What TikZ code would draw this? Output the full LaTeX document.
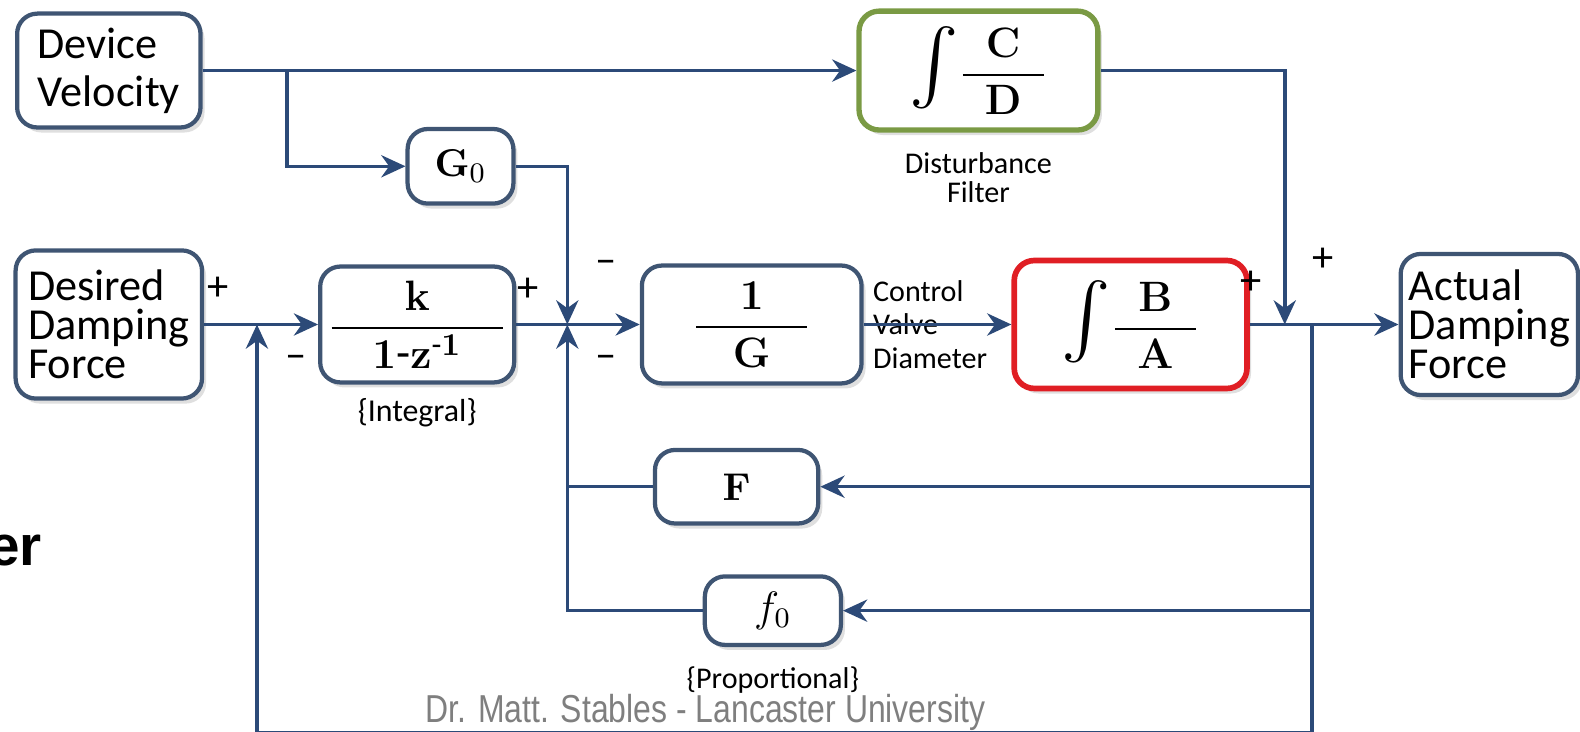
\documentclass[tikz,border=0pt]{standalone}
\usepackage{amsmath,amssymb}
\usepackage[no-math]{fontspec}
\setmainfont{Carlito}
\newfontfamily\creditfont{Liberation Sans}[FakeStretch=0.82]
\newfontfamily\headfont{Liberation Sans}
\usetikzlibrary{positioning,arrows.meta,shadows}

\definecolor{boxblue}{HTML}{3F5573}
\definecolor{wireblue}{HTML}{2C4A78}
\definecolor{filtgreen}{HTML}{7A9A44}
\definecolor{modred}{HTML}{E01E24}
\definecolor{footgray}{HTML}{7F7F7F}

\newcommand{\blockfrac}[3]{\dfrac{\makebox[#1]{$\mathbf{#2}$}}{\mathbf{#3}}}
\newcommand{\bigint}{{\fontsize{21}{21}\selectfont$\int$}}

\begin{document}
\begin{tikzpicture}[node distance=2cm,on grid,>={Stealth[length=2.4mm,width=2.2mm]}]

      \tikzset{blockbox/.style={draw=boxblue,line width=1.2pt,rounded corners=2mm,fill=white,
          drop shadow={opacity=0.25,shadow xshift=0.4mm,shadow yshift=-0.5mm},inner sep=2pt},
        wordbox/.style={blockbox,align=left,font=\fontsize{12.5}{11}\selectfont},
        mathbox/.style={blockbox,font=\fontsize{13}{15}\selectfont},
        wire/.style={draw=wireblue,line width=1pt},
        sign/.style={font=\fontsize{12}{12}\selectfont,inner sep=0pt},
        smalltext/.style={font=\fontsize{8.5}{9.5}\selectfont,align=center}}

      \useasboundingbox (0,0) rectangle (15.68,-7.26);

      % blocks
      \node[wordbox,minimum width=1.85cm,minimum height=1.47cm] (ddf) at (1.08,-3.22) {Desired\\Damping\\Force};
      \node[wordbox,minimum width=1.82cm,minimum height=1.13cm,font=\fontsize{12.5}{13.5}\selectfont] (dv) [above = 2.52cm of ddf] {Device\\Velocity};
      \node[mathbox,minimum width=1.92cm,minimum height=1.15cm] (kint) [right = 3.06cm of ddf] {$\blockfrac{1.7cm}{k}{1\text{-}z^{\text{-}1}}$};
      \node[mathbox,minimum width=2.18cm,minimum height=1.17cm] (invg) [right = 3.32cm of kint] {$\blockfrac{1.1cm}{1}{G}$};
      \node[mathbox,draw=modred,line width=1.6pt,minimum width=2.31cm,minimum height=1.27cm] (ba) [right = 3.76cm of invg] {\bigint$\blockfrac{0.8cm}{B}{A}$};
      \node[wordbox,minimum width=1.76cm,minimum height=1.40cm] (adf) [right = 3.56cm of ba] {Actual\\Damping\\Force};
      \node[mathbox,draw=filtgreen,line width=1.5pt,minimum width=2.37cm,minimum height=1.18cm] (cd) [above left = 2.52cm and 1.51cm of ba] {\bigint$\blockfrac{0.8cm}{C}{D}$};
      \node[mathbox,minimum width=1.05cm,minimum height=0.74cm,font=\fontsize{11}{13}\selectfont] (g0) [above right = 1.57cm and 0.43cm of kint] {$\mathbf{G}_0$};
      \node[mathbox,minimum width=1.62cm,minimum height=0.73cm,font=\fontsize{11}{13}\selectfont] (fbox) [below left = 1.61cm and 0.15cm of invg] {$\mathbf{F}$};
      \node[mathbox,minimum width=1.35cm,minimum height=0.68cm,font=\fontsize{12}{13}\selectfont] (fz) [below right = 2.84cm and 0.21cm of invg] {$f_0$};

      % junctions
      \coordinate[right = 1.77cm of dv] (br);
      \coordinate[right = 1.47cm of ddf] (s1);
      \coordinate[right = 1.49cm of kint] (s2);
      \coordinate[right = 1.53cm of ba] (s3);
      \coordinate[right = 1.80cm of ba] (tap);
      \coordinate[below = 4.05cm of tap] (bot);
      \coordinate (fj) at (s2 |- fbox);

      % labels
      \node[smalltext,font=\fontsize{8.5}{8.2}\selectfont] (dfilt) [below = 1.06cm of cd] {Disturbance\\Filter};
      \node[smalltext,font=\fontsize{9}{10}\selectfont] (integ) [below = 0.88cm of kint] {\{Integral\}};
      \node[smalltext,align=left,font=\fontsize{8.5}{9.4}\selectfont] (cvd) [right = 1.77cm of invg] {Control\\Valve\\Diameter};
      \node[smalltext,font=\fontsize{8.5}{9}\selectfont] (prop) [below = 0.69cm of fz] {\{Proportional\}};
      \node[font=\creditfont\fontsize{11}{12}\selectfont,text=footgray] (credit) at (7.0,-7.07) {Dr. Matt. Stables - Lancaster University};
      \node[anchor=east,font=\headfont\bfseries\fontsize{16}{18}\selectfont,inner sep=0pt] (er) at (0.42,-5.46) {er};

      % signs
      \node[sign] (ps1) [above left = 0.23cm and 0.27cm of s1] {+};
      \node[sign] (ms1) [below right = 0.30cm and 0.28cm of s1] {--};
      \node[sign] (ps2) [above left = 0.22cm and 0.28cm of s2] {+};
      \node[sign] (ms2a) [above right = 0.50cm and 0.27cm of s2] {--};
      \node[sign] (ms2b) [below right = 0.30cm and 0.27cm of s2] {--};
      \node[sign] (ps3) [above left = 0.29cm and 0.22cm of s3] {+};
      \node[sign] (ps4) [above right = 0.52cm and 0.27cm of s3] {+};

      % connectors
      \draw[wire,->] (dv) -- (cd);
      \draw[wire,->] (br) |- (g0);
      \draw[wire,->] (g0) -| (s2);
      \draw[wire,->] (cd) -| (s3);
      \draw[wire,->] (ddf) -- (kint);
      \draw[wire,->] (kint) -- (invg);
      \draw[wire,->] (invg) -- (ba);
      \draw[wire,->] (ba) -- (adf);
      \draw[wire,->] (tap) |- (fbox);
      \draw[wire,->] (tap) |- (fz);
      \draw[wire] (tap) -- (bot);
      \draw[wire,->] (bot) -| (s1);
      \draw[wire] (fbox) -- (fj);
      \draw[wire,->] (fz) -| (s2);
    \end{tikzpicture}
\end{document}
